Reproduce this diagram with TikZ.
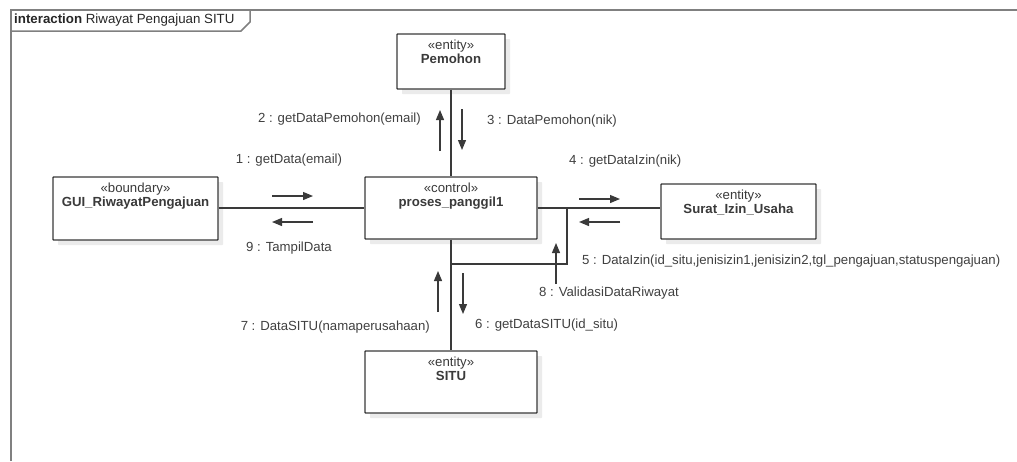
\documentclass[tikz,border=0pt]{standalone}
\usepackage{fontspec}
\setmainfont{Liberation Sans}
\usetikzlibrary{arrows.meta,shadows}
\definecolor{linec}{HTML}{3A3A3A}
\definecolor{textc}{HTML}{404040}
\definecolor{framec}{HTML}{808080}
\definecolor{shadowc}{HTML}{EBEBEB}
\tikzset{
  box/.style={draw=linec, line width=1.3pt, fill=white, rectangle, inner sep=0pt, rounded corners=0.6pt,
    drop shadow={shadow xshift=5pt, shadow yshift=-5pt, fill=shadowc, opacity=1}},
  boxtext/.style={align=center, anchor=north, inner sep=0pt, font=\fontsize{13.2}{14.5}\selectfont, text=linec},
  lbl/.style={inner sep=0pt, font=\fontsize{13.2}{15}\selectfont, text=textc},
  link/.style={draw=linec, line width=1.5pt},
  msg/.style={draw=linec, line width=1.2pt, -{Triangle[length=10pt,width=8pt]}},
  frameline/.style={draw=framec, line width=1.5pt}
}
\begin{document}
\begin{tikzpicture}[x=1pt,y=-1pt]
\useasboundingbox (0,0) rectangle (1017,461);
% frame
\draw[frameline] (11,461) -- (11,10) -- (1017,10);
\draw[frameline] (11,31) -- (241,31) -- (250,22) -- (250,10);
\node[lbl, anchor=west, text=black!85, font=\fontsize{13.3}{14}\selectfont] (title) at (14,20.5) {\textbf{interaction} Riwayat Pengajuan SITU};

% boxes
\node[box, minimum width=108pt, minimum height=55pt] (pem) at (451,61.5) {};
\node[boxtext] (pemt) at ([yshift=-6pt]pem.north) {«entity»\\\textbf{Pemohon}};

\node[box, minimum width=165pt, minimum height=63pt] (gui) at (135.5,208.5) {};
\node[boxtext] (guit) at ([yshift=-6pt]gui.north) {«boundary»\\\textbf{GUI\_RiwayatPengajuan}};

\node[box, minimum width=172pt, minimum height=62pt] (ctl) at (451,208) {};
\node[boxtext] (ctlt) at ([yshift=-6pt]ctl.north) {«control»\\\textbf{proses\_panggil1}};

\node[box, minimum width=155pt, minimum height=55pt] (sur) at (738.5,211.5) {};
\node[boxtext] (surt) at ([yshift=-6pt]sur.north) {«entity»\\\textbf{Surat\_Izin\_Usaha}};

\node[box, minimum width=172pt, minimum height=62pt] (situ) at (451,382) {};
\node[boxtext] (situt) at ([yshift=-6pt]situ.north) {«entity»\\\textbf{SITU}};

% links
\draw[link] (pem.south) -- (ctl.north);
\draw[link] (ctl.south) -- (situ.north);
\draw[link] (gui.east |- ctl.west) -- (ctl.west);
\draw[link] (ctl.east) -- (sur.west |- ctl.east);
\coordinate (lpb) at (567,264);
\draw[link] (ctl.east) -| (lpb) -- (ctl.south |- lpb);

% messages
\draw[msg] (440,151) -- (440,110);
\draw[msg] (462,109) -- (462,150);
\draw[msg] (272,196) -- (313,196);
\draw[msg] (313,222) -- (272,222);
\draw[msg] (579,199) -- (620,199);
\draw[msg] (620,222) -- (579,222);
\draw[msg] (556,284) -- (556,243);
\draw[msg] (438,312) -- (438,271);
\draw[msg] (463,273) -- (463,314);

% labels
\node[lbl, anchor=east] (l2) at (421,119) {2 : getDataPemohon(email)};
\node[lbl, anchor=west] (l3) at (487,121) {3 : DataPemohon(nik)};
\node[lbl] (l1) at (289,160) {1 : getData(email)};
\node[lbl] (l9) at (289,248) {9 : TampilData};
\node[lbl, anchor=west] (l4) at (569,161) {4 : getDataIzin(nik)};
\node[lbl, anchor=west] (l5) at (582,261) {5 : DataIzin(id\_situ,jenisizin1,jenisizin2,tgl\_pengajuan,statuspengajuan)};
\node[lbl, anchor=west] (l8) at (539,293) {8 : ValidasiDataRiwayat};
\node[lbl, anchor=east] (l7) at (430,327) {7 : DataSITU(namaperusahaan)};
\node[lbl, anchor=west] (l6) at (475,325) {6 : getDataSITU(id\_situ)};
\end{tikzpicture}
\end{document}
